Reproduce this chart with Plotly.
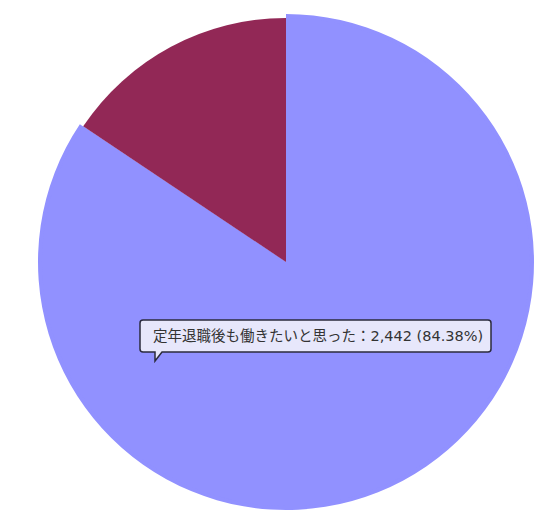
import plotly.graph_objects as go

# データ
labels = ['定年退職後も働きたいと思った', '定年退職後は働きたいと思わなかった']
values = [2442, 452]
colors = ['#9191FF', '#922856']

total = sum(values)
pct = values[0] / total * 100
tip = f'{labels[0]}：{values[0]:,} ({pct:.2f}%)'

# ページの余白(8px)を差し引いたサイズ
OFF = 8
W, H = 558 - OFF, 523 - OFF


def px(x):
    return (x - OFF) / W


def py(y):
    return (H - (y - OFF)) / H


fig = go.Figure()

# ホバーで少し大きくなった方のスライス（下のレイヤー）
fig.add_trace(go.Pie(
    labels=labels, values=values, sort=False,
    direction='clockwise', rotation=0,
    marker=dict(colors=[colors[0], 'rgba(0,0,0,0)'], line=dict(width=0)),
    textinfo='none', hoverinfo='skip', showlegend=False,
    domain=dict(x=[px(38), px(534)], y=[py(510), py(14)]),
))

# 通常サイズのパイ
fig.add_trace(go.Pie(
    labels=labels, values=values, sort=False,
    direction='clockwise', rotation=0,
    marker=dict(colors=colors, line=dict(width=0)),
    textinfo='none', hoverinfo='skip', showlegend=False,
    domain=dict(x=[px(42), px(530)], y=[py(506), py(18)]),
))

# ツールチップ風の枠（角丸＋吹き出し）
x0, x1, y0, y1, r = 140, 491, 320, 352, 3
path = (
    f'M {px(x0 + r)} {py(y0)} L {px(x1 - r)} {py(y0)} '
    f'Q {px(x1)} {py(y0)} {px(x1)} {py(y0 + r)} '
    f'L {px(x1)} {py(y1 - r)} Q {px(x1)} {py(y1)} {px(x1 - r)} {py(y1)} '
    f'L {px(162)} {py(y1)} L {px(155)} {py(361)} L {px(155)} {py(y1)} '
    f'L {px(x0 + r)} {py(y1)} Q {px(x0)} {py(y1)} {px(x0)} {py(y1 - r)} '
    f'L {px(x0)} {py(y0 + r)} Q {px(x0)} {py(y0)} {px(x0 + r)} {py(y0)} Z'
)
fig.add_shape(
    type='path', xref='paper', yref='paper', path=path,
    fillcolor='rgba(242,242,250,0.88)', line=dict(color='#2b2b3d', width=1.5),
)

fig.add_annotation(
    x=px(151), y=py(336), xref='paper', yref='paper',
    text=tip, showarrow=False,
    font=dict(family='DejaVu Sans, Noto Sans CJK JP', size=14.5, color='#333333'),
    xanchor='left', yanchor='middle',
)

fig.update_layout(
    width=W, height=H,
    margin=dict(l=0, r=0, t=0, b=0),
    paper_bgcolor='white', plot_bgcolor='white',
)

fig.write_html('out.html')
